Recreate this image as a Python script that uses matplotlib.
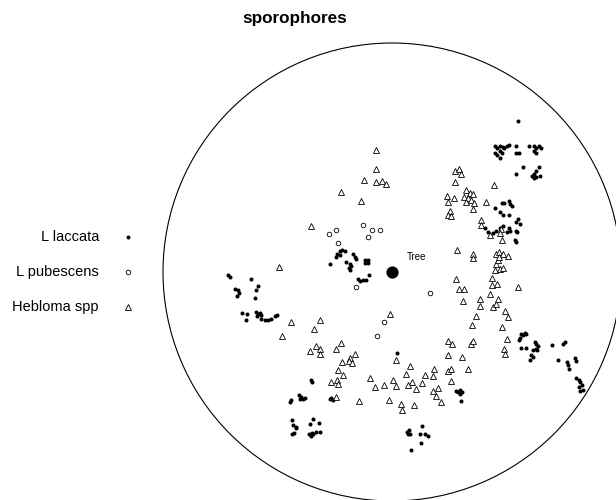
import numpy as np
import matplotlib
matplotlib.use("Agg")
import matplotlib.pyplot as plt
from matplotlib.patches import Circle

plt.rcParams['font.family'] = ['Liberation Sans', 'DejaVu Sans']

# window: disc of radius 100 centred on the tree
radius = 100
tree = (0, 0)

# L laccata
lac_x = [55, 45, 46, 47, 48.5, 50, 51, 45, 46, 47, 48, 49, 47, 54, 54, 55.5,
         60, 62, 63, 64, 65, 63, 62, 57, 54, 64, 63, 62, 61, 62, 63, 64.5,
         48, 49, 51, 51.5, 52.5, 45, 47, 48.5, 51, 55, 56, 54,
         40.5, 42, 44, 45.5, 47, 48.5, 50, 51, 51.5, 54, 54.5, 53.5, 54,
         56.5, 57, 58, 58.7, 55.7, 55.5, 56.5, 58.4, 62.3, 63, 63.8, 62.7,
         61.6, 63.3, 60.8, 61.6, 60.4, 70, 74.7, 75.4, 72.5, 76.4, 76.9,
         77.3, 79.8, 80.2, 80.5, 81.7, 82.2, 83.1, 81.7, 83.4, 82.2,
         -71.6, -70.9, -61.4, -68.7, -67.2, -66.8, -67.7, -58.5, -59.5,
         -59.8, -65.4, -63.3, -63.9, -59.5, -58.5, -57.8, -57.1, -59,
         -57.1, -55.6, -54.1, -52.7, -51.2, -50.2,
         -26.9, -24.6, -24, -22.9, -21.7, -20.7, -22.9, -17, -16.3, -15.6,
         -19.9, -18.5, -17.8, -18.8, -18.2, -11.9, -10.5, -11.9, -10.5,
         -14.8, -14.1, -12.7, -11.5, -10,
         -35.2, -34.8, -44.7, -44, -40.6, -39.6, -38.9, -40.3, -38.1,
         -27.2, -25.8, -26.5, -43.5, -43.2, -41.8, -42.1, -43.5, -42.9,
         -34.5, -36, -31.9, -36.2, -35.2, -34.5, -33, -31.6, -34.8,
         2.2, 6.6, 7.4, 8, 7, 13.2, 12.4, 14.3, 15.7, 12.8, 8.4,
         28.1, 28.8, 29.5, 30.7, 29.8, 30]
lac_y = [66, 55, 54, 55, 54.6, 55, 55.5, 52, 51, 50, 52, 54, 53, 55, 52, 52,
         55, 55, 54, 55, 54, 52, 53, 46, 43, 46, 44, 43, 42, 41, 41.5, 42,
         30, 30, 31, 29.5, 29, 28, 26, 25, 25, 23, 21, 22,
         19, 17.5, 17, 18, 19, 20, 17.5, 19, 18, 18, 17.5, 14, 13,
         -27, -27.7, -26.6, -27.2, -29, -29.5, -33, -33, -30.6, -31.6, -32.5,
         -33.5, -34.2, -34.2, -36.4, -37.1, -38.6, -32, -31.3, -30.6, -38.3,
         -39.3, -40.8, -42.2, -37.4, -38.9, -46.1, -47, -48, -49.5, -50.2,
         -51.4, -52,
         -1.5, -2.2, -2.9, -7.3, -8, -9.2, -10.6, -6.3, -7.7,
         -11.2, -17.9, -18.5, -20.8, -17.5, -18.5, -17.9, -18.9, -19.4,
         -20.4, -20.8, -21.1, -20.4, -19.4, -18.9,
         3.6, 6.6, 8, 9.2, 9.5, 9, 7.3, 8, 6.6, 5.8,
         4.4, 3.6, 2.5, 1.9, 0.7, 5.1, 5.1, 3.9, 3.9,
         -2.9, -3.9, -3.6, -3.3, -1.5,
         -47.3, -48, -56.8, -56, -53.9, -54.6, -55.3, -55.3, -54.9,
         -55.3, -56, -55, -64.8, -67, -67.7, -68.1, -70.6, -70.3,
         -64, -66.2, -65.9, -70.6, -71.8, -70.9, -69.9, -69.9, -70.3,
         -35.4, -69.9, -69.1, -70.6, -70.9, -67.4, -70.9, -70.9, -71.8,
         -74.5, -77.9,
         -52, -52.4, -51.7, -52.4, -53.1, -56.3]

# L pubescens
pub_x = [-27.5, -24.3, -23.4, -12.5, -8.7, -5.4, -10.3, -15.6, 16.7, -3.5, -6.7]
pub_y = [16.4, 18.5, 12.8, 20.7, 18.2, 18.3, 15.3, -6.6, -9, -22, -27.9]

# Hebloma spp
heb_x = [-7.1, -6.8, -12.4, -7.1, -4.2, -2.8, -22.4, -13.7, -35.4, -49.2,
         -44, -31.6, -34.2, -48, -1, -33, -31.3, -35.7, -31.4, -24.6, -22.4,
         -16.3, -18.2, -18.9, -17.6, -22, -23.6, -21.5, -24, -26.6, -23.4,
         -24.6, -14.6, -9.8, -7.4, -3.6, 0.4, 1.9, 1.9, 8, 6.3, 8.6, 7,
         10.3, 13.2, 14.6, 18.2, 17.9, -1.3, 3.9, 4.4, 9.6, 17.9, 20.2,
         19.4, 21.5, 24.6, 26.3, 24.6, 24.5, 25.6, 25.9, 30.7, 33.3, 34.6,
         35.5, 35.1, 36.8, 38.3, 38.3, 31.1, 28.1, 29.3, 31.4, 28.2, 35.5,
         35.5, 44.1, 45.3, 46.4, 42.9, 49.2, 50.8, 48.2, 50.4, 48.8, 49.3,
         55, 43.8, 43.7, 45.9, 45.3, 46.4, 44.8, 47, 48.5, 45.6, 46.7, 48.5,
         50.8, 46.7, 47.7, 47, 48.2, 42.6, 38.7, 39, 41.2, 44.5, 27.4, 29.3,
         30, 27.5, 24, 26.9, 24.3, 32.2, 33.9, 35.4, 31.3, 33.2, 34.6, 32.5,
         35.7, 35.4, 25.5, 24.5, 25.9]
heb_y = [53.1, 45, 40, 39.4, 39.7, 38.3, 34.9, 31.1, 20.1, 2.3,
         -21.7, -21.1, -25, -27.8, -18.2, -32.3, -33.5, -34.6, -36, -33.8, -31,
         -35.7, -37.6, -38.9, -39.7, -39.4, -42.9, -45.1, -47.3, -47.9, -48.8,
         -54.6, -56.3, -46.1, -50.4, -49.2, -47, -49.6, -38.6, -41, -44.4, -48,
         -49.5, -50.9, -48.3, -45.1, -42.5, -45.4, -56, -57.8, -60.1, -58.2,
         -52.1, -50.7, -54.3, -56.8, -30.3, -31.3, -36.2, -43.4, -42.5, -47.6,
         -37.3, -42.5, -31.6, -30.3, -23, -19.4, -11.6, -14.8, -12.8, -2.9,
         -7.4, -7.3, 9.6, 8, 6.1, -15.3, -13.8, -11.6, -9.8, -17, -19.7, -24,
         -29.4, -33.6, -35.7, -6.6, -2.5, -5.5, -5.1, 3.6, 5.1, 1, 1.5, 1.9,
         8, 8.6, 8, 7, 6.6, 18.9, 17, 13.8, 16, 22.9, 20.7, 30.6, 37.8, 44.1,
         44.8, 42.9, 39.4, 33, 32.5, 30.7, 35.7, 34.5, 34.2, 32.8, 32.5, 31.6,
         30.6, 30.1, 27.7, 26.6, 24.7, 24.3]

labels = ["L laccata", "L pubescens", "Hebloma spp"]

fig = plt.figure(figsize=(6.16, 5.0), dpi=100)

# main plot, equal scale: 200 units -> 458 px both ways
ax = fig.add_axes([163 / 616, -1 / 500, 458 / 616, 458 / 500])
ax.set_xlim(-radius, radius)
ax.set_ylim(-radius, radius)
ax.axis("off")

ax.add_patch(Circle((0, 0), radius, fill=False, edgecolor="black", lw=0.8,
                    clip_on=False))
ax.plot(lac_x, lac_y, "o", ms=2.9, color="black", mew=0, clip_on=False)
ax.plot(pub_x, pub_y, "o", ms=3.3, mfc="white", mec="black", mew=0.6,
        clip_on=False)
ax.plot(heb_x, heb_y, "^", ms=4.7, mfc="white", mec="black", mew=0.6,
        clip_on=False)

ax.plot(*tree, "o", ms=8.8, color="black", mew=0)
ax.text(6.5, 6.5, "Tree", fontsize=7, ha="left", va="center")

# legend on the left, in pixel coordinates
leg = fig.add_axes([0, 0, 1, 1], zorder=-1)
leg.set_xlim(0, 616)
leg.set_ylim(500, 0)
leg.axis("off")
rows = [237, 272, 307]
for lab, yy in zip(labels, rows):
    leg.text(99, yy, lab, fontsize=10.5, ha="right", va="center")
leg.plot(128, rows[0], "o", ms=2.9, color="black", mew=0)
leg.plot(128, rows[1], "o", ms=3.3, mfc="white", mec="black", mew=0.6)
leg.plot(128, rows[2], "^", ms=4.7, mfc="white", mec="black", mew=0.6)

fig.text(295 / 616, 1 - 18 / 500, "sporophores", fontsize=12.3,
         fontweight="bold", ha="center", va="center")

plt.savefig("out.png", dpi=100)
